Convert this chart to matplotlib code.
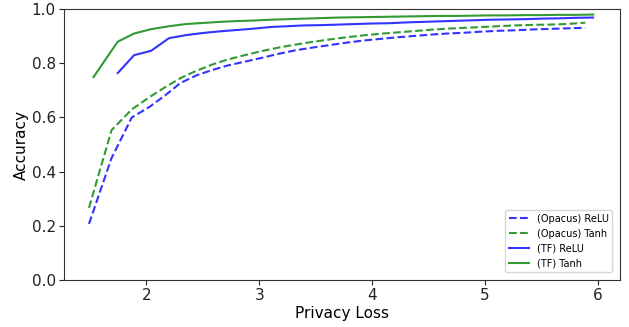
import matplotlib
matplotlib.use('Agg')
import matplotlib.pyplot as plt

# Opacus runs
eps_opacus = [1.49, 1.69, 1.87, 2.03, 2.17, 2.30, 2.44, 2.58, 2.72, 2.87, 3.02, 3.17, 3.32, 3.47, 3.62,
              3.77, 3.92, 4.07, 4.22, 4.37, 4.52, 4.67, 4.82, 4.97, 5.12, 5.27, 5.42, 5.57, 5.72, 5.89]
acc_opacus_relu = [0.207, 0.45, 0.60, 0.64, 0.683, 0.727, 0.755, 0.775, 0.792, 0.806, 0.820, 0.835, 0.848, 0.858, 0.867,
                   0.876, 0.884, 0.890, 0.896, 0.901, 0.906, 0.910, 0.913, 0.917, 0.920, 0.922, 0.925, 0.927, 0.929, 0.931]
acc_opacus_tanh = [0.266, 0.553, 0.630, 0.676, 0.713, 0.745, 0.772, 0.795, 0.814, 0.830, 0.845, 0.858, 0.869, 0.879, 0.888,
                   0.896, 0.903, 0.909, 0.914, 0.919, 0.924, 0.928, 0.931, 0.934, 0.937, 0.940, 0.942, 0.943, 0.945, 0.950]

# TF privacy runs
eps_tf = [1.53, 1.745, 1.89, 2.04, 2.20, 2.35, 2.50, 2.65, 2.80, 2.95, 3.10, 3.25, 3.40, 3.55, 3.70,
          3.85, 4.00, 4.15, 4.30, 4.45, 4.60, 4.75, 4.90, 5.05, 5.20, 5.35, 5.50, 5.65, 5.80, 5.96]
acc_tf_relu = [0.764, 0.830, 0.846, 0.893, 0.904, 0.912, 0.918, 0.923, 0.928, 0.934, 0.937, 0.940, 0.941, 0.943,
               0.945, 0.947, 0.948, 0.951, 0.953, 0.955, 0.957, 0.959, 0.961, 0.962, 0.963, 0.965, 0.966, 0.968, 0.969]
acc_tf_tanh = [0.749, 0.880, 0.910, 0.926, 0.937, 0.945, 0.949, 0.953, 0.956, 0.958, 0.961, 0.963, 0.965, 0.967, 0.969,
               0.970, 0.971, 0.972, 0.973, 0.974, 0.975, 0.975, 0.976, 0.977, 0.977, 0.978, 0.978, 0.979, 0.979, 0.980]

fig = plt.figure(figsize=(6.29, 3.27), dpi=100)
ax = fig.add_axes([0.102, 0.144, 0.884, 0.828])

ax.plot(eps_opacus, acc_opacus_relu, 'b--', alpha=0.8, label='(Opacus) ReLU')
ax.plot(eps_opacus, acc_opacus_tanh, 'g--', alpha=0.8, label='(Opacus) Tanh')
ax.plot(eps_tf[1:], acc_tf_relu, 'b-', alpha=0.8, label='(TF) ReLU')
ax.plot(eps_tf, acc_tf_tanh, 'g-', alpha=0.8, label='(TF) Tanh')

ax.set_ylim(0, 1.0)
ax.set_xlim(1.27, 6.2)
ax.set_xticks([2, 3, 4, 5, 6])
ax.tick_params(labelsize=11, colors='#222222', pad=2.5)
for s in ax.spines.values():
    s.set_color('#333333')
ax.set_xlabel('Privacy Loss', fontsize=11, labelpad=2)
ax.set_ylabel('Accuracy', fontsize=11, labelpad=2)
ax.legend(loc='lower right', fontsize=7, borderaxespad=0.8)

fig.savefig('out.png', dpi=100)
